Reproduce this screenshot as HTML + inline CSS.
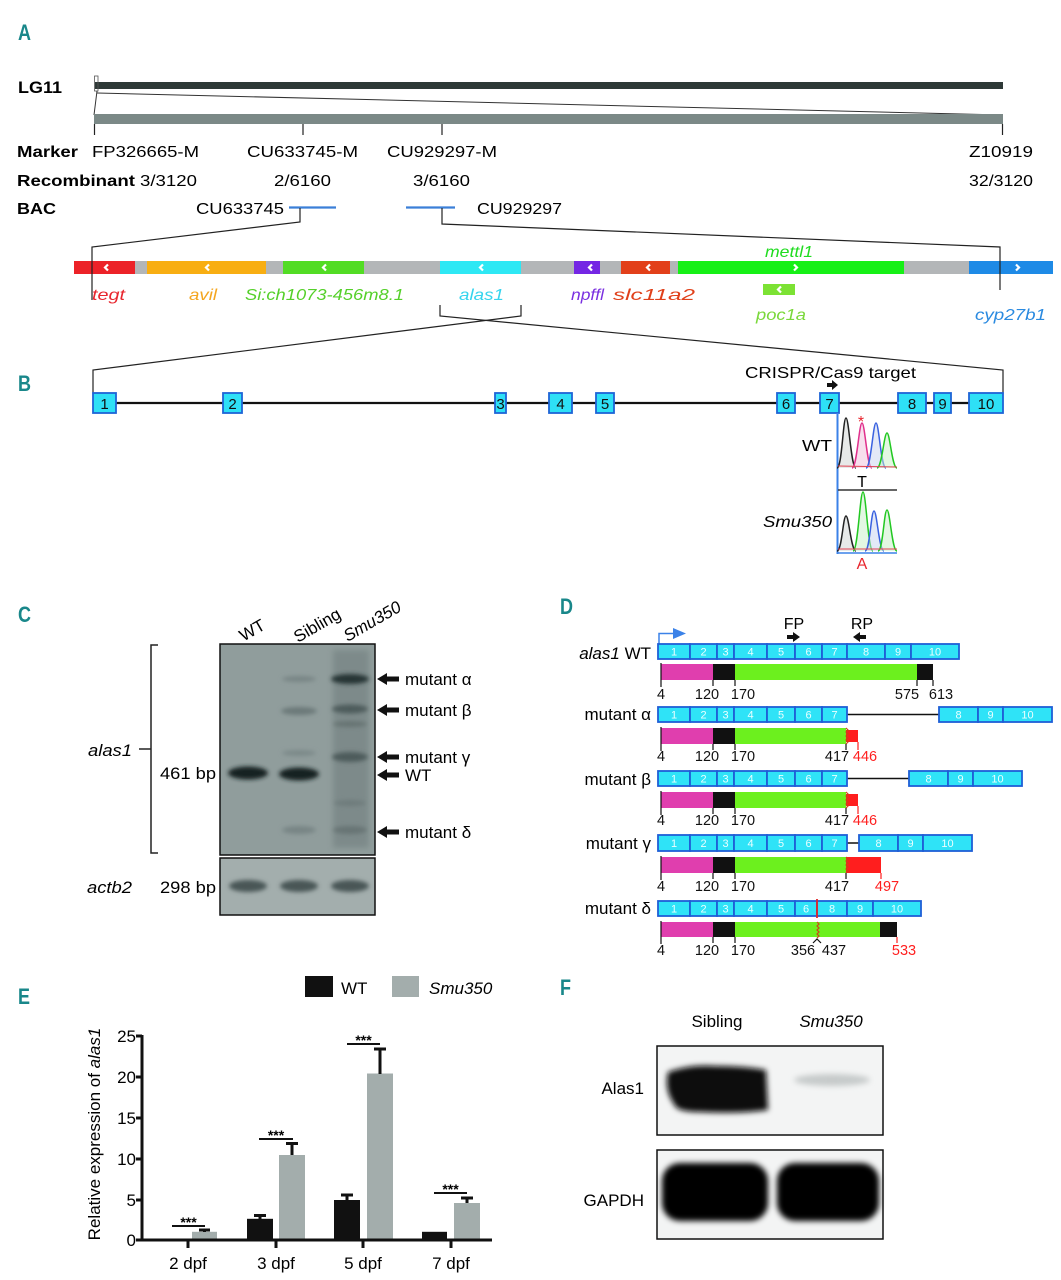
<!DOCTYPE html>
<html><head><meta charset="utf-8"><style>
html,body{margin:0;padding:0;background:#fff;}
svg{display:block;}
text{font-family:"Liberation Sans",Arial,sans-serif;}
.lt{fill:#19878a;font-weight:bold;font-size:22px;}
.b{font-weight:bold;}
.i{font-style:italic;}
</style></head><body>
<svg width="1061" height="1280" viewBox="0 0 1061 1280" xmlns="http://www.w3.org/2000/svg">
<defs>
<filter id="bl2" x="-50%" y="-50%" width="200%" height="200%"><feGaussianBlur stdDeviation="2"/></filter>
<filter id="bl3" x="-50%" y="-50%" width="200%" height="200%"><feGaussianBlur stdDeviation="3"/></filter>
<filter id="bl5" x="-50%" y="-50%" width="200%" height="200%"><feGaussianBlur stdDeviation="5"/></filter>
</defs>

<!-- ============ PANEL A ============ -->
<text class="lt" x="18" y="40" textLength="13" lengthAdjust="spacingAndGlyphs">A</text>
<text class="b" x="18" y="93" font-size="17" textLength="44" lengthAdjust="spacingAndGlyphs">LG11</text>
<rect x="95" y="82" width="908" height="7" fill="#2e3937"/>
<rect x="94.5" y="76" width="3.5" height="15" fill="none" stroke="#555" stroke-width="0.8"/>
<line x1="97" y1="91" x2="94" y2="115" stroke="#333" stroke-width="1"/>
<line x1="97" y1="93" x2="1003" y2="115" stroke="#333" stroke-width="1"/>
<rect x="94" y="114" width="909" height="10" fill="#7b8987"/>
<g stroke="#222" stroke-width="1.2">
<line x1="94.5" y1="124" x2="94.5" y2="135"/>
<line x1="303" y1="124" x2="303" y2="135"/>
<line x1="442" y1="124" x2="442" y2="135"/>
<line x1="1002.5" y1="124" x2="1002.5" y2="135"/>
</g>
<g font-size="16">
<text class="b" x="17" y="157" textLength="61" lengthAdjust="spacingAndGlyphs">Marker</text>
<text x="92" y="157" textLength="107" lengthAdjust="spacingAndGlyphs">FP326665-M</text>
<text x="247" y="157" textLength="111" lengthAdjust="spacingAndGlyphs">CU633745-M</text>
<text x="387" y="157" textLength="110" lengthAdjust="spacingAndGlyphs">CU929297-M</text>
<text x="969" y="157" textLength="64" lengthAdjust="spacingAndGlyphs">Z10919</text>
<text class="b" x="17" y="186" textLength="118" lengthAdjust="spacingAndGlyphs">Recombinant</text>
<text x="140" y="186" textLength="57" lengthAdjust="spacingAndGlyphs">3/3120</text>
<text x="274" y="186" textLength="57" lengthAdjust="spacingAndGlyphs">2/6160</text>
<text x="413" y="186" textLength="57" lengthAdjust="spacingAndGlyphs">3/6160</text>
<text x="969" y="186" textLength="64" lengthAdjust="spacingAndGlyphs">32/3120</text>
<text class="b" x="17" y="214" textLength="39" lengthAdjust="spacingAndGlyphs">BAC</text>
<text x="196" y="214" textLength="88" lengthAdjust="spacingAndGlyphs">CU633745</text>
<text x="477" y="214" textLength="85" lengthAdjust="spacingAndGlyphs">CU929297</text>
</g>
<line x1="289" y1="207.5" x2="336" y2="207.5" stroke="#3b7fd8" stroke-width="2.2"/>
<line x1="406" y1="207.5" x2="455" y2="207.5" stroke="#3b7fd8" stroke-width="2.2"/>
<!-- connectors -->
<g stroke="#222" stroke-width="1.2" fill="none">
<polyline points="300,208 300,222 92,247 92,300"/>
<polyline points="442,208 442,224 1000,247 1000,290"/>
</g>
<!-- gene bar -->
<rect x="74" y="261" width="979" height="13" fill="#b3b6b8"/>
<rect x="74" y="261" width="61" height="13" fill="#ec2228"/>
<rect x="147" y="261" width="119" height="13" fill="#f8ae12"/>
<rect x="283" y="261" width="81" height="13" fill="#52dc24"/>
<rect x="440" y="261" width="81" height="13" fill="#2ee8f4"/>
<rect x="574" y="261" width="26" height="13" fill="#7426e4"/>
<rect x="621" y="261" width="49" height="13" fill="#e2401a"/>
<rect x="678" y="261" width="226" height="13" fill="#16f016"/>
<rect x="969" y="261" width="84" height="13" fill="#1e8ae6"/>
<line x1="92" y1="261" x2="92" y2="274" stroke="#222" stroke-width="1.2"/>
<line x1="1000" y1="261" x2="1000" y2="274" stroke="#222" stroke-width="1.2"/>
<g stroke="#fff" stroke-width="2.2" fill="none">
<path d="M108 264.5 L105 267.5 L108 270.5"/>
<path d="M209 264.5 L206 267.5 L209 270.5"/>
<path d="M326 264.5 L323 267.5 L326 270.5"/>
<path d="M483 264.5 L480 267.5 L483 270.5"/>
<path d="M592 264.5 L589 267.5 L592 270.5"/>
<path d="M650 264.5 L647 267.5 L650 270.5"/>
<path d="M794 264.5 L797 267.5 L794 270.5"/>
<path d="M1016 264.5 L1019 267.5 L1016 270.5"/>
</g>
<rect x="763" y="284" width="32" height="11" fill="#7ce234"/>
<path d="M781 286.5 L778 289.5 L781 292.5" stroke="#fff" stroke-width="2.2" fill="none"/>
<g font-size="16" class="i">
<text x="765" y="257" fill="#20dc20" textLength="48" lengthAdjust="spacingAndGlyphs">mettl1</text>
<text x="92" y="300" fill="#e8262e" textLength="33" lengthAdjust="spacingAndGlyphs">tegt</text>
<text x="189" y="300" fill="#f4a620" textLength="28" lengthAdjust="spacingAndGlyphs">avil</text>
<text x="245" y="300" fill="#55d02a" textLength="159" lengthAdjust="spacingAndGlyphs">Si:ch1073-456m8.1</text>
<text x="459" y="300" fill="#36d4ee" textLength="45" lengthAdjust="spacingAndGlyphs">alas1</text>
<text x="571" y="300" fill="#7a30e0" textLength="33" lengthAdjust="spacingAndGlyphs">npffl</text>
<text x="613" y="300" fill="#e0401a" textLength="82" lengthAdjust="spacingAndGlyphs">slc11a2</text>
<text x="756" y="320" fill="#7ad83a" textLength="50" lengthAdjust="spacingAndGlyphs">poc1a</text>
<text x="975" y="320" fill="#2a8ae0" textLength="71" lengthAdjust="spacingAndGlyphs">cyp27b1</text>
</g>
<!-- alas1 bracket crossing -->
<g stroke="#222" stroke-width="1.2" fill="none">
<polyline points="440,305 440,316 1003,370 1003,394"/>
<polyline points="521,305 521,316 93,370 93,394"/>
</g>

<!-- ============ PANEL B ============ -->
<text class="lt" x="18" y="391" textLength="13" lengthAdjust="spacingAndGlyphs">B</text>
<line x1="93" y1="403" x2="1003" y2="403" stroke="#111" stroke-width="2.2"/>
<g fill="#2ee0f6" stroke="#1e64d6" stroke-width="1.8">
<rect x="93" y="393" width="23" height="20"/>
<rect x="223" y="393" width="19" height="20"/>
<rect x="495" y="393" width="11" height="20"/>
<rect x="549" y="393" width="23" height="20"/>
<rect x="596" y="393" width="18" height="20"/>
<rect x="777" y="393" width="18" height="20"/>
<rect x="820" y="393" width="19" height="20"/>
<rect x="898" y="393" width="28" height="20"/>
<rect x="934" y="393" width="17" height="20"/>
<rect x="969" y="393" width="34" height="20"/>
</g>
<g font-size="15" text-anchor="middle" fill="#111">
<text x="104.5" y="409">1</text>
<text x="232.5" y="409">2</text>
<text x="500.5" y="409">3</text>
<text x="560.5" y="409">4</text>
<text x="605" y="409">5</text>
<text x="786" y="409">6</text>
<text x="829.5" y="409">7</text>
<text x="912" y="409">8</text>
<text x="942.5" y="409">9</text>
<text x="986" y="409">10</text>
</g>
<text x="745" y="378" font-size="16" textLength="171" lengthAdjust="spacingAndGlyphs">CRISPR/Cas9 target</text>
<polygon points="827,383 832,383 832,380 838,385 832,390 832,387 827,387" fill="#111"/>
<!-- chromatogram -->
<line x1="837.5" y1="413" x2="837.5" y2="554" stroke="#3b82e8" stroke-width="2"/>
<line x1="837" y1="553" x2="897" y2="553" stroke="#3b82e8" stroke-width="1.5"/>
<line x1="838" y1="490" x2="897" y2="490" stroke="#333" stroke-width="1.5"/>
<g stroke-width="1.5">
<path d="M837 468 C842 468 843 418 846 418 C849 418 851 468 856 468" fill="#d0d4d2" fill-opacity="0.5" stroke="#222"/>
<path d="M852 468 C857 468 859 423 862 423 C865 423 867 468 872 468" fill="#f0c0dc" fill-opacity="0.5" stroke="#e0308c"/>
<path d="M866 468 C871 468 873 423 876 423 C879 423 881 468 886 468" fill="#c8d4f0" fill-opacity="0.5" stroke="#3a62e0"/>
<path d="M877 468 C882 468 884 433 887 433 C890 433 892 468 897 468" fill="#c8f0c8" fill-opacity="0.5" stroke="#22c822"/>
<path d="M838 466 L897 467" stroke="#e04050" stroke-width="1" fill="none"/>
<path d="M837 551 C842 551 843 516 846 516 C849 516 851 551 856 551" fill="#d0d4d2" fill-opacity="0.5" stroke="#222"/>
<path d="M853 551 C858 551 860 492 863 492 C866 492 868 551 873 551" fill="#c8f0c8" fill-opacity="0.5" stroke="#22c822"/>
<path d="M865 551 C870 551 871 511 874 511 C877 511 879 551 884 551" fill="#c8d4f0" fill-opacity="0.5" stroke="#3a62e0"/>
<path d="M878 551 C883 551 884 510 887 510 C890 510 892 551 897 551" fill="#c8f0c8" fill-opacity="0.5" stroke="#22c822"/>
<path d="M838 549 L897 549" stroke="#e04050" stroke-width="1" fill="none"/>
</g>
<text x="861" y="427" font-size="16" fill="#e8262e" text-anchor="middle">*</text>
<text x="802" y="451" font-size="16" textLength="30" lengthAdjust="spacingAndGlyphs">WT</text>
<text x="862" y="487" font-size="16" text-anchor="middle">T</text>
<text x="763" y="527" font-size="16" class="i" textLength="69" lengthAdjust="spacingAndGlyphs">Smu350</text>
<text x="862" y="569" font-size="16" fill="#e8262e" text-anchor="middle">A</text>

<!-- ============ PANEL C ============ -->
<text class="lt" x="18" y="622" textLength="13" lengthAdjust="spacingAndGlyphs">C</text>
<text x="252" y="636" font-size="17" text-anchor="middle" transform="rotate(-30 252 630)">WT</text>
<text x="317" y="631" font-size="17" text-anchor="middle" transform="rotate(-30 317 625)">Sibling</text>
<text x="372" y="627" font-size="17" class="i" text-anchor="middle" transform="rotate(-30 372 621)">Smu350</text>
<!-- bracket -->
<g stroke="#222" stroke-width="1.5" fill="none">
<polyline points="158,645 151,645 151,853 158,853"/>
<line x1="139" y1="749" x2="151" y2="749"/>
</g>
<text x="88" y="756" font-size="17" class="i" textLength="44" lengthAdjust="spacingAndGlyphs">alas1</text>
<text x="160" y="779" font-size="17" textLength="56" lengthAdjust="spacingAndGlyphs">461 bp</text>
<text x="87" y="893" font-size="17" class="i" textLength="45" lengthAdjust="spacingAndGlyphs">actb2</text>
<text x="160" y="893" font-size="17" textLength="56" lengthAdjust="spacingAndGlyphs">298 bp</text>
<!-- gel top -->
<rect x="220" y="644" width="155" height="211" fill="#909d9c"/>
<rect x="333" y="650" width="36" height="198" fill="#6e7b7b" opacity="0.55" filter="url(#bl3)"/>
<g filter="url(#bl2)">
<ellipse cx="248" cy="773" rx="20" ry="6.5" fill="#142020"/>
<ellipse cx="299" cy="774" rx="20" ry="6.5" fill="#142020"/>
<ellipse cx="299" cy="679" rx="17" ry="3" fill="#788585"/>
<ellipse cx="299" cy="711" rx="18" ry="4" fill="#6c7979"/>
<ellipse cx="299" cy="753" rx="17" ry="3" fill="#7c8989"/>
<ellipse cx="299" cy="830" rx="17" ry="4" fill="#788585"/>
<ellipse cx="350" cy="679" rx="19" ry="5" fill="#283434"/>
<ellipse cx="350" cy="709" rx="18" ry="4.5" fill="#4e5b5b"/>
<ellipse cx="350" cy="724" rx="17" ry="3" fill="#667372"/>
<ellipse cx="350" cy="757" rx="18" ry="5" fill="#4e5b5b"/>
<ellipse cx="350" cy="803" rx="16" ry="3" fill="#6e7b7b"/>
<ellipse cx="350" cy="830" rx="17" ry="4" fill="#687575"/>
</g>
<rect x="220" y="644" width="155" height="211" fill="none" stroke="#111" stroke-width="1.5"/>
<!-- gel bottom -->
<rect x="220" y="858" width="155" height="57" fill="#a3aead"/>
<g filter="url(#bl2)">
<ellipse cx="248" cy="886" rx="19" ry="6" fill="#4a5656"/>
<ellipse cx="299" cy="886" rx="19" ry="6" fill="#4a5656"/>
<ellipse cx="350" cy="886" rx="19" ry="6" fill="#4a5656"/>
</g>
<rect x="220" y="858" width="155" height="57" fill="none" stroke="#111" stroke-width="1.5"/>
<!-- arrows -->
<g fill="#111">
<polygon points="377,679 387,673 387,676.5 399,676.5 399,681.5 387,681.5 387,685"/>
<polygon points="377,710 387,704 387,707.5 399,707.5 399,712.5 387,712.5 387,716"/>
<polygon points="377,757 387,751 387,754.5 399,754.5 399,759.5 387,759.5 387,763"/>
<polygon points="377,775 387,769 387,772.5 399,772.5 399,777.5 387,777.5 387,781"/>
<polygon points="377,832 387,826 387,829.5 399,829.5 399,834.5 387,834.5 387,838"/>
</g>
<g font-size="17">
<text x="405" y="685">mutant α</text>
<text x="405" y="716">mutant β</text>
<text x="405" y="763">mutant γ</text>
<text x="405" y="781">WT</text>
<text x="405" y="838">mutant δ</text>
</g>

<!-- ============ PANEL D ============ -->
<text class="lt" x="560" y="614" textLength="13" lengthAdjust="spacingAndGlyphs">D</text>
<text x="794" y="629" font-size="16" text-anchor="middle">FP</text>
<text x="862" y="629" font-size="16" text-anchor="middle">RP</text>
<polygon points="787,635 793,635 793,632 800,637 793,642 793,639 787,639" fill="#111"/>
<polygon points="866,635 860,635 860,632 853,637 860,642 860,639 866,639" fill="#111"/>
<path d="M659 644 V633.5 H675" stroke="#3b82e8" stroke-width="1.5" fill="none"/>
<polygon points="673,628 686,633.5 673,639" fill="#3b82e8"/>
<g font-size="17" text-anchor="end">
<text x="651" y="659"><tspan class="i">alas1</tspan> WT</text>
<text x="651" y="720">mutant α</text>
<text x="651" y="785">mutant β</text>
<text x="651" y="849">mutant γ</text>
<text x="651" y="914">mutant δ</text>
</g>
<g stroke="#111" stroke-width="1.5">
<line x1="847" y1="714.5" x2="939" y2="714.5"/>
<line x1="847" y1="778.5" x2="909" y2="778.5"/>
<line x1="847" y1="843" x2="859" y2="843"/>
</g>
<!-- exon rows -->
<g fill="#2fe3f7" stroke="#1e5ed6" stroke-width="1.8">
<!-- WT -->
<rect x="658" y="644" width="32" height="15"/><rect x="690" y="644" width="27" height="15"/><rect x="717" y="644" width="17" height="15"/><rect x="734" y="644" width="33" height="15"/><rect x="767" y="644" width="28" height="15"/><rect x="795" y="644" width="27" height="15"/><rect x="822" y="644" width="25" height="15"/><rect x="847" y="644" width="38" height="15"/><rect x="885" y="644" width="26" height="15"/><rect x="911" y="644" width="48" height="15"/>
<!-- alpha -->
<rect x="658" y="707" width="32" height="15"/><rect x="690" y="707" width="27" height="15"/><rect x="717" y="707" width="17" height="15"/><rect x="734" y="707" width="33" height="15"/><rect x="767" y="707" width="28" height="15"/><rect x="795" y="707" width="27" height="15"/><rect x="822" y="707" width="25" height="15"/><rect x="939" y="707" width="39" height="15"/><rect x="978" y="707" width="25" height="15"/><rect x="1003" y="707" width="49" height="15"/>
<!-- beta -->
<rect x="658" y="771" width="32" height="15"/><rect x="690" y="771" width="27" height="15"/><rect x="717" y="771" width="17" height="15"/><rect x="734" y="771" width="33" height="15"/><rect x="767" y="771" width="28" height="15"/><rect x="795" y="771" width="27" height="15"/><rect x="822" y="771" width="25" height="15"/><rect x="909" y="771" width="39" height="15"/><rect x="948" y="771" width="25" height="15"/><rect x="973" y="771" width="49" height="15"/>
<!-- gamma -->
<rect x="658" y="835" width="32" height="16"/><rect x="690" y="835" width="27" height="16"/><rect x="717" y="835" width="17" height="16"/><rect x="734" y="835" width="33" height="16"/><rect x="767" y="835" width="28" height="16"/><rect x="795" y="835" width="27" height="16"/><rect x="822" y="835" width="25" height="16"/><rect x="859" y="835" width="39" height="16"/><rect x="898" y="835" width="25" height="16"/><rect x="923" y="835" width="49" height="16"/>
<!-- delta -->
<rect x="658" y="901" width="32" height="15"/><rect x="690" y="901" width="27" height="15"/><rect x="717" y="901" width="17" height="15"/><rect x="734" y="901" width="33" height="15"/><rect x="767" y="901" width="28" height="15"/><rect x="795" y="901" width="22" height="15"/><rect x="817" y="901" width="30" height="15"/><rect x="847" y="901" width="26" height="15"/><rect x="873" y="901" width="48" height="15"/>
</g>
<line x1="817" y1="899" x2="817" y2="918" stroke="#e02828" stroke-width="1.8"/>
<g font-size="11" fill="#eaffff" text-anchor="middle">
<g transform="translate(0,655.5)"><text x="674">1</text><text x="703.5">2</text><text x="725.5">3</text><text x="750.5">4</text><text x="781">5</text><text x="808.5">6</text><text x="834.5">7</text><text x="866">8</text><text x="898">9</text><text x="935">10</text></g>
<g transform="translate(0,718.5)"><text x="674">1</text><text x="703.5">2</text><text x="725.5">3</text><text x="750.5">4</text><text x="781">5</text><text x="808.5">6</text><text x="834.5">7</text><text x="958.5">8</text><text x="990.5">9</text><text x="1027.5">10</text></g>
<g transform="translate(0,782.5)"><text x="674">1</text><text x="703.5">2</text><text x="725.5">3</text><text x="750.5">4</text><text x="781">5</text><text x="808.5">6</text><text x="834.5">7</text><text x="928.5">8</text><text x="960.5">9</text><text x="997.5">10</text></g>
<g transform="translate(0,847)"><text x="674">1</text><text x="703.5">2</text><text x="725.5">3</text><text x="750.5">4</text><text x="781">5</text><text x="808.5">6</text><text x="834.5">7</text><text x="878.5">8</text><text x="910.5">9</text><text x="947.5">10</text></g>
<g transform="translate(0,912.5)"><text x="674">1</text><text x="703.5">2</text><text x="725.5">3</text><text x="750.5">4</text><text x="781">5</text><text x="806">6</text><text x="832">8</text><text x="860">9</text><text x="897">10</text></g>
</g>
<!-- protein bars -->
<!-- WT -->
<rect x="661" y="664" width="52" height="16" fill="#e03eae"/>
<rect x="713" y="664" width="22" height="16" fill="#111"/>
<rect x="735" y="664" width="182" height="16" fill="#6cf01e"/>
<rect x="917" y="664" width="16" height="16" fill="#111"/>
<!-- alpha -->
<rect x="661" y="728" width="52" height="16" fill="#e03eae"/>
<rect x="713" y="728" width="22" height="16" fill="#111"/>
<rect x="735" y="728" width="111" height="16" fill="#6cf01e"/>
<rect x="846" y="730" width="12" height="12" fill="#ff1e1e"/>
<!-- beta -->
<rect x="661" y="792" width="52" height="16" fill="#e03eae"/>
<rect x="713" y="792" width="22" height="16" fill="#111"/>
<rect x="735" y="792" width="111" height="16" fill="#6cf01e"/>
<rect x="846" y="794" width="12" height="12" fill="#ff1e1e"/>
<!-- gamma -->
<rect x="661" y="857" width="52" height="16" fill="#e03eae"/>
<rect x="713" y="857" width="22" height="16" fill="#111"/>
<rect x="735" y="857" width="111" height="16" fill="#6cf01e"/>
<rect x="846" y="857" width="35" height="16" fill="#ff1e1e"/>
<!-- delta -->
<rect x="661" y="922" width="52" height="15" fill="#e03eae"/>
<rect x="713" y="922" width="22" height="15" fill="#111"/>
<rect x="735" y="922" width="145" height="15" fill="#6cf01e"/>
<rect x="880" y="922" width="17" height="15" fill="#111"/>
<!-- zigzags -->
<g stroke="#d0401a" stroke-width="1.2" fill="none">
<path d="M846 728 l2 2 l-2 2 l2 2 l-2 2 l2 2 l-2 2 l2 2 l-2 2"/>
<path d="M846 792 l2 2 l-2 2 l2 2 l-2 2 l2 2 l-2 2 l2 2 l-2 2"/>
<path d="M846 857 l2 2 l-2 2 l2 2 l-2 2 l2 2 l-2 2 l2 2 l-2 2"/>
<path d="M817 922 l2 2 l-2 2 l2 2 l-2 2 l2 2 l-2 2 l2 2 l-2 2"/>
</g>
<!-- ticks -->
<g stroke="#111" stroke-width="1.2">
<line x1="661" y1="663" x2="661" y2="687"/><line x1="713" y1="680" x2="713" y2="686"/><line x1="735" y1="680" x2="735" y2="686"/><line x1="917" y1="680" x2="917" y2="686"/><line x1="933" y1="680" x2="933" y2="686"/>
<line x1="661" y1="727" x2="661" y2="751"/><line x1="713" y1="744" x2="713" y2="750"/><line x1="735" y1="744" x2="735" y2="750"/><line x1="846" y1="744" x2="846" y2="750"/>
<line x1="661" y1="791" x2="661" y2="815"/><line x1="713" y1="808" x2="713" y2="814"/><line x1="735" y1="808" x2="735" y2="814"/><line x1="846" y1="808" x2="846" y2="814"/>
<line x1="661" y1="856" x2="661" y2="880"/><line x1="713" y1="873" x2="713" y2="879"/><line x1="735" y1="873" x2="735" y2="879"/><line x1="846" y1="873" x2="846" y2="879"/>
<line x1="661" y1="921" x2="661" y2="944"/><line x1="713" y1="937" x2="713" y2="943"/><line x1="735" y1="937" x2="735" y2="943"/>
<path d="M813 943 L817 939 L821 943" fill="none"/>
</g>
<g stroke="#ff1e1e" stroke-width="1.2">
<line x1="858" y1="742" x2="858" y2="750"/><line x1="858" y1="806" x2="858" y2="814"/><line x1="881" y1="873" x2="881" y2="879"/><line x1="897" y1="937" x2="897" y2="943"/>
</g>
<g font-size="14.5" text-anchor="middle" fill="#111">
<g transform="translate(0,699)"><text x="661">4</text><text x="707">120</text><text x="743">170</text><text x="907">575</text><text x="941">613</text></g>
<g transform="translate(0,761)"><text x="661">4</text><text x="707">120</text><text x="743">170</text><text x="837">417</text><text x="865" fill="#ff2020">446</text></g>
<g transform="translate(0,825)"><text x="661">4</text><text x="707">120</text><text x="743">170</text><text x="837">417</text><text x="865" fill="#ff2020">446</text></g>
<g transform="translate(0,891)"><text x="661">4</text><text x="707">120</text><text x="743">170</text><text x="837">417</text><text x="887" fill="#ff2020">497</text></g>
<g transform="translate(0,955)"><text x="661">4</text><text x="707">120</text><text x="743">170</text><text x="803">356</text><text x="834">437</text><text x="904" fill="#ff2020">533</text></g>
</g>

<!-- ============ PANEL E ============ -->
<text class="lt" x="18" y="1004" textLength="12" lengthAdjust="spacingAndGlyphs">E</text>
<rect x="305" y="976" width="28" height="21" fill="#111"/>
<text x="341" y="994" font-size="17">WT</text>
<rect x="392" y="976" width="27" height="21" fill="#a3adac"/>
<text x="429" y="994" font-size="17" class="i">Smu350</text>
<text transform="translate(100,1134) rotate(-90)" font-size="17" text-anchor="middle">Relative expression of <tspan class="i">alas1</tspan></text>
<g font-size="17" text-anchor="end">
<text x="136" y="1042">25</text>
<text x="136" y="1083">20</text>
<text x="136" y="1124">15</text>
<text x="136" y="1165">10</text>
<text x="136" y="1206">5</text>
<text x="136" y="1246">0</text>
</g>
<!-- bars -->
<rect x="160" y="1238.8" width="23" height="1.5" fill="#111"/>
<rect x="192" y="1231.8" width="25" height="8.5" fill="#a3adac"/>
<rect x="247" y="1218.8" width="26" height="21.5" fill="#111"/>
<rect x="279" y="1155" width="26" height="85" fill="#a3adac"/>
<rect x="334" y="1200" width="26" height="40" fill="#111"/>
<rect x="367" y="1073.5" width="26" height="166.5" fill="#a3adac"/>
<rect x="422" y="1231.8" width="25" height="8.5" fill="#111"/>
<rect x="454" y="1203" width="26" height="37" fill="#a3adac"/>
<!-- error bars -->
<g stroke="#111" stroke-width="3">
<line x1="204.5" y1="1232" x2="204.5" y2="1230"/><line x1="199" y1="1230" x2="210" y2="1230"/>
<line x1="260" y1="1219" x2="260" y2="1215.5"/><line x1="254" y1="1215.5" x2="266" y2="1215.5"/>
<line x1="292" y1="1155" x2="292" y2="1143.5"/><line x1="286" y1="1143.5" x2="298" y2="1143.5"/>
<line x1="347" y1="1200" x2="347" y2="1195"/><line x1="341" y1="1195" x2="353" y2="1195"/>
<line x1="380" y1="1074" x2="380" y2="1049"/><line x1="374" y1="1049" x2="386" y2="1049"/>
<line x1="467" y1="1203" x2="467" y2="1198"/><line x1="461" y1="1198" x2="473" y2="1198"/>
</g>
<!-- axes -->
<g stroke="#111" stroke-width="3">
<line x1="142" y1="1035" x2="142" y2="1241.5"/>
<line x1="140.5" y1="1240" x2="492" y2="1240"/>
<line x1="136" y1="1036" x2="142" y2="1036"/>
<line x1="136" y1="1077" x2="142" y2="1077"/>
<line x1="136" y1="1118" x2="142" y2="1118"/>
<line x1="136" y1="1159" x2="142" y2="1159"/>
<line x1="136" y1="1200" x2="142" y2="1200"/>
<line x1="136" y1="1240" x2="142" y2="1240"/>
<line x1="188" y1="1240" x2="188" y2="1248"/>
<line x1="276" y1="1240" x2="276" y2="1248"/>
<line x1="363" y1="1240" x2="363" y2="1248"/>
<line x1="451" y1="1240" x2="451" y2="1248"/>
</g>
<g font-size="17" text-anchor="middle">
<text x="188" y="1269">2 dpf</text>
<text x="276" y="1269">3 dpf</text>
<text x="363" y="1269">5 dpf</text>
<text x="451" y="1269">7 dpf</text>
</g>
<!-- significance -->
<g stroke="#111" stroke-width="2">
<line x1="172" y1="1226" x2="205" y2="1226"/>
<line x1="259" y1="1139" x2="293" y2="1139"/>
<line x1="347" y1="1044" x2="380" y2="1044"/>
<line x1="434" y1="1193" x2="467" y2="1193"/>
</g>
<g font-size="14" text-anchor="middle" font-weight="bold">
<text x="188.5" y="1227">***</text>
<text x="276" y="1140">***</text>
<text x="363.5" y="1045">***</text>
<text x="450.5" y="1194">***</text>
</g>

<!-- ============ PANEL F ============ -->
<text class="lt" x="560" y="995" textLength="11" lengthAdjust="spacingAndGlyphs">F</text>
<text x="717" y="1027" font-size="17" text-anchor="middle">Sibling</text>
<text x="831" y="1027" font-size="17" class="i" text-anchor="middle">Smu350</text>
<text x="644" y="1094" font-size="17" text-anchor="end">Alas1</text>
<text x="644" y="1206" font-size="17" text-anchor="end">GAPDH</text>
<rect x="657" y="1046" width="226" height="89" fill="#f3f4f4"/>
<g filter="url(#bl3)">
<path d="M668 1072 Q690 1064 715 1066 Q745 1066 766 1070 L768 1110 Q740 1114 700 1112 Q676 1112 674 1104 Q664 1090 668 1072 Z" fill="#080808"/>
<ellipse cx="832" cy="1080" rx="38" ry="6" fill="#c6caca"/>
</g>
<rect x="657" y="1046" width="226" height="89" fill="none" stroke="#111" stroke-width="1.5"/>
<rect x="657" y="1150" width="226" height="89" fill="#f3f4f4"/>
<g filter="url(#bl3)">
<rect x="662" y="1163" width="106" height="58" rx="18" fill="#060606"/>
<rect x="777" y="1163" width="102" height="58" rx="18" fill="#060606"/>
</g>
<rect x="657" y="1150" width="226" height="89" fill="none" stroke="#111" stroke-width="1.5"/>
</svg>
</body></html>
